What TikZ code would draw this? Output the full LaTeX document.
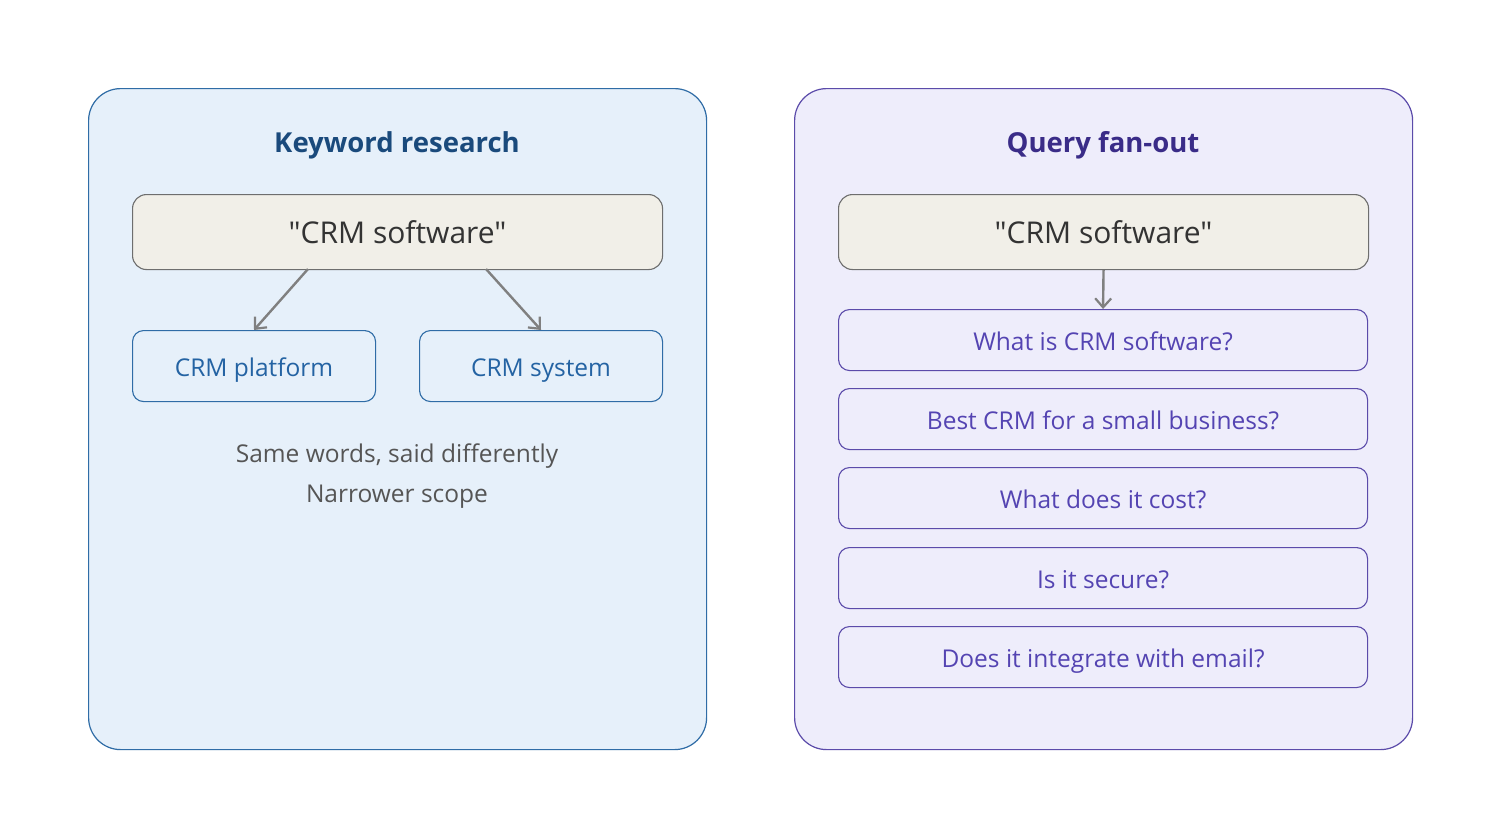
\documentclass[tikz,border=0pt]{standalone}
\usepackage{fontspec}
\setmainfont{Open Sans}
\newfontfamily\seedfont{Open Sans}[Ligatures=ResetAll]
\usetikzlibrary{arrows.meta}
\definecolor{kwfill}{HTML}{E6F0FA}
\definecolor{kwdraw}{HTML}{2F6CA6}
\definecolor{kwtitle}{HTML}{1A4A7C}
\definecolor{kwtext}{HTML}{2463A3}
\definecolor{qffill}{HTML}{EEEDFB}
\definecolor{qfdraw}{HTML}{5B4BAA}
\definecolor{qftitle}{HTML}{3A2C88}
\definecolor{qftext}{HTML}{5444B2}
\definecolor{seedfill}{HTML}{F1EFE8}
\definecolor{seeddraw}{HTML}{6E6E6E}
\definecolor{seedtext}{HTML}{333333}
\definecolor{notetext}{HTML}{555555}
\definecolor{arrowc}{HTML}{808080}
\begin{document}
\begin{tikzpicture}[x=1pt,y=-1pt,
  panel/.style={draw, line width=1.2pt, rounded corners=32pt, minimum width=618pt, minimum height=661pt, anchor=north west},
  seed/.style={draw=seeddraw, fill=seedfill, line width=1.1pt, rounded corners=14pt, minimum width=530pt, minimum height=75pt, anchor=north west, font=\seedfont\fontsize{30}{34}\selectfont, text=seedtext, text height=24.4pt, text depth=1pt},
  kwitem/.style={draw=kwdraw, fill=kwfill, line width=1.1pt, rounded corners=11pt, minimum width=243pt, minimum height=71pt, anchor=north west, font=\fontsize{24.5}{28}\selectfont, text=kwtext, text height=22.4pt, text depth=1pt},
  qfitem/.style={draw=qfdraw, fill=qffill, line width=1.1pt, rounded corners=11pt, minimum width=529pt, minimum height=61pt, anchor=north west, font=\fontsize{24.5}{28}\selectfont, text=qftext, text height=22pt, text depth=1pt},
  ptitle/.style={font=\fontsize{27.5}{32}\selectfont\bfseries, text height=20.5pt, text depth=1pt},
  note/.style={font=\fontsize{24.5}{28}\selectfont, text=notetext, text height=18.4pt, text depth=1pt},
  conn/.style={draw=arrowc, line width=2.4pt, -{Straight Barb[length=9pt,width=16pt,line width=2.2pt]}}
]
\useasboundingbox (0,0) rectangle (1500,838);
\fill[white] (0,0) rectangle (1500,838);
% panels
\node[panel, draw=kwdraw, fill=kwfill] (kwpanel) at (88,88) {};
\node[panel, draw=qfdraw, fill=qffill] (qfpanel) at (794,88) {};
% titles
\node[ptitle, text=kwtitle] (kwtitle) at (397,142.5) {Keyword research};
\node[ptitle, text=qftitle] (qftitle) at (1103,142.5) {Query fan-out};
% left
\node[seed] (kwseed) at (132,194) {"CRM software"};
\node[kwitem] (plat) at (132,330) {CRM platform};
\node[kwitem] (sys) at (419,330) {CRM system};
\coordinate (a1s) at (308,269);
\coordinate (a1e) at (254,330);
\coordinate (a2s) at (486,269);
\coordinate (a2e) at (541,330);
\draw[conn] (a1s) -- (a1e);
\draw[conn] (a2s) -- (a2e);
\node[note] (note1) at (397,453.5) {Same words, said differently};
\node[note] (note2) at (397,494) {Narrower scope};
% right
\node[seed] (qfseed) at (838,194) {"CRM software"};
\node[qfitem] (q1) at (838,309) {What is CRM software?};
\node[qfitem] (q2) at (838,388) {Best CRM for a small business?};
\node[qfitem] (q3) at (838,467) {What does it cost?};
\node[qfitem] (q4) at (838,547) {Is it secure?};
\node[qfitem] (q5) at (838,626) {Does it integrate with email?};
\draw[conn] (qfseed.south) -- (q1.north);
\end{tikzpicture}
\end{document}
